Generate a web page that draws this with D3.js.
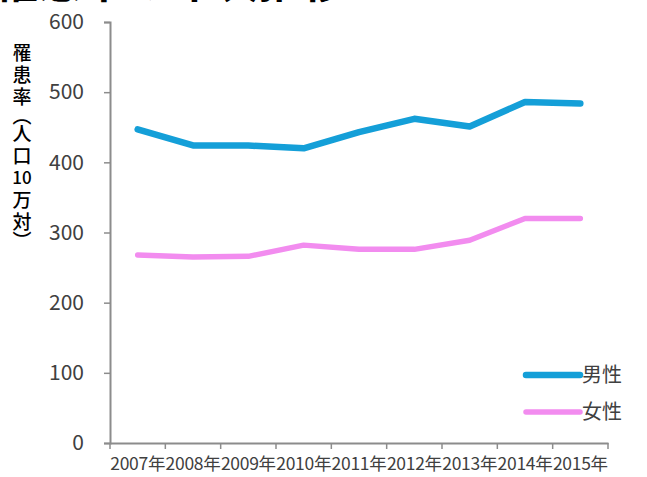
<!DOCTYPE html>
<html><head><meta charset="utf-8">
<script src="https://cdn.jsdelivr.net/npm/d3@7"></script>
<style>
body{margin:0;background:#fff;}
svg{display:block;}
text{font-family:"Noto Sans CJK JP","Noto Sans",sans-serif;}
</style></head>
<body>
<script>
const years = ["2007年","2008年","2009年","2010年","2011年","2012年","2013年","2014年","2015年"];
const male = [447,424,424,420,443,462,451,486,484];
const female = [268,265,266,282,276,276,289,320,320];
const yTicks = [0,100,200,300,400,500,600];
const seriesNames = ["男性","女性"];
const seriesColors = ["#149fd8","#f28cef"];
const yLabelChars = ["罹","患","率","（","人","口","10","万","対","）"];
const titleText = "罹患率の年次推移";

const W=647,H=477;
const svg=d3.select("body").append("svg").attr("width",W).attr("height",H);

const x=d3.scaleBand().domain(years).range([110,608]);
const y=d3.scaleLinear().domain([0,600]).range([443,22]);

// title (cropped at top)
svg.append("text").attr("x",-6).attr("y",-2).attr("font-size",44).attr("font-weight","bold")
  .attr("fill","#000").text(titleText);

// y axis
const yAx=svg.append("g").attr("transform","translate(110,0)")
  .call(d3.axisLeft(y).tickValues(yTicks).tickSize(6).tickPadding(20).tickSizeOuter(6));
yAx.select(".domain").attr("stroke","#8c8c8c").attr("stroke-width",2);
yAx.selectAll(".tick line").attr("stroke","#8c8c8c").attr("stroke-width",1.5);
yAx.selectAll(".tick text").attr("font-size",21).attr("fill","#404040")
  .attr("font-family","'Noto Sans',sans-serif");

// x axis
const xAx=svg.append("g").attr("transform","translate(0,443)")
  .call(d3.axisBottom(x).tickSize(0).tickPadding(15));
xAx.select(".domain").attr("stroke","#8c8c8c").attr("stroke-width",2);
xAx.selectAll(".tick text").attr("font-size",17.5).attr("fill","#404040")
  .attr("letter-spacing",-0.3);
// band-boundary ticks
const bounds=years.map(d=>x(d)).concat([x(years[years.length-1])+x.bandwidth()]);
xAx.selectAll(".bt").data(bounds).enter().append("line")
  .attr("x1",d=>d).attr("x2",d=>d).attr("y1",0).attr("y2",6)
  .attr("stroke","#8c8c8c").attr("stroke-width",1.5);

// lines
const line=d3.line().x((d,i)=>x(years[i])+x.bandwidth()/2).y(d=>y(d));
[male,female].forEach((s,k)=>{
  svg.append("path").datum(s).attr("d",line).attr("fill","none")
    .attr("stroke",seriesColors[k]).attr("stroke-width",k===0?6.5:5.5)
    .attr("stroke-linejoin","round").attr("stroke-linecap","round");
});

// legend
const lg=svg.append("g");
seriesNames.forEach((n,k)=>{
  const yy=375+k*37;
  lg.append("line").attr("x1",526).attr("x2",580).attr("y1",yy).attr("y2",yy)
    .attr("stroke",seriesColors[k]).attr("stroke-width",k===0?6.5:5.5).attr("stroke-linecap","round");
  lg.append("text").attr("x",582).attr("y",yy).attr("dy","0.36em").attr("font-size",20)
    .attr("fill","#404040").text(n);
});

// vertical y label (one glyph per element, vertical writing for the brackets)
const yl=svg.append("g");
let cy=42;
yLabelChars.forEach(c=>{
  const paren=(c==="（"||c==="）");
  const h=paren?15:22;
  const t=yl.append("text").attr("font-size",c==="10"?17:19).attr("fill","#000")
    .attr("font-weight","500").text(c);
  if(paren){
    t.attr("writing-mode","vertical-rl").attr("x",22).attr("y",cy+h/2)
     .attr("text-anchor","middle");
  } else {
    t.attr("x",22).attr("y",cy+h/2).attr("dy","0.36em").attr("text-anchor","middle")
     .attr("font-family",c==="10"?"'Noto Sans',sans-serif":null);
  }
  cy+=h;
});
</script>
</body></html>
